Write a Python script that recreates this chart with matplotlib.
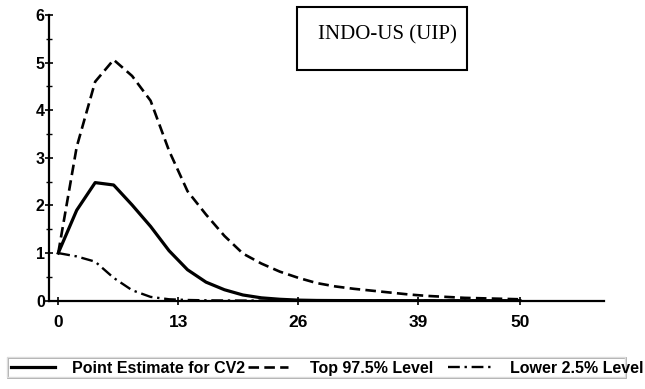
import matplotlib
matplotlib.use("Agg")
import matplotlib.pyplot as plt
from matplotlib.patches import Rectangle
from matplotlib.lines import Line2D
import numpy as np

# impulse response horizons and the three bands
horizon = np.arange(0, 51, 2)
point_est = [1.0, 1.9, 2.48, 2.43, 2.01, 1.56, 1.05, 0.65, 0.39, 0.23, 0.12, 0.06, 0.03,
             0.012, 0.005, 0.003, 0.002, 0.001, 0.001, 0.0, 0.0, 0.0, 0.0, 0.0, 0.0, 0.0]
upper = [1.0, 3.23, 4.6, 5.06, 4.72, 4.2, 3.15, 2.3, 1.81, 1.36, 0.99, 0.78, 0.61,
         0.48, 0.37, 0.30, 0.25, 0.21, 0.17, 0.13, 0.10, 0.08, 0.06, 0.05, 0.04, 0.03]
lower = [1.0, 0.93, 0.82, 0.48, 0.22, 0.08, 0.03, 0.015, 0.008, 0.005, 0.003, 0.002, 0.001,
         0.001, 0.0, 0.0, 0.0, 0.0, 0.0, 0.0, 0.0, 0.0, 0.0, 0.0, 0.0, 0.0]

xticks = [0, 13, 26, 39, 50]
labels = ["Point Estimate for CV2", "Top 97.5% Level", "Lower 2.5% Level"]
title = "INDO-US (UIP)"

fig = plt.figure(figsize=(6.45, 3.89), dpi=100)
W, H = 645, 389
ax = fig.add_axes([49 / W, 1 - 300.7 / H, 555 / W, 285.7 / H])

styles = [dict(lw=2.3, linestyle="-"),
          dict(lw=1.9, linestyle=(0, (4, 2))),
          dict(lw=1.7, linestyle=(0, (5, 2, 1, 2)))]
for ys, st in zip([point_est, upper, lower], styles):
    ax.plot(horizon, ys, color="black", **st)

ax.set_xlim(-1, 59.1)
ax.set_ylim(0, 6)
for side in ["top", "right"]:
    ax.spines[side].set_visible(False)
for side in ["left", "bottom"]:
    ax.spines[side].set_linewidth(1.6)
ax.set_xticks(xticks)
ax.set_yticks(range(7))
ax.set_yticks(np.arange(0.5, 6, 1), minor=True)
ax.tick_params(axis="both", direction="inout", length=6, width=1.2)
ax.tick_params(axis="y", which="minor", direction="inout", length=4, width=1.0)
ax.tick_params(axis="x", pad=7, labelsize=12.5)
ax.tick_params(axis="y", pad=0, labelsize=11.5)
for t in ax.get_xticklabels() + ax.get_yticklabels():
    t.set_fontweight("bold")
    t.set_fontfamily("Liberation Sans")

# title box in the upper right
fig.patches.append(Rectangle((297 / W, 1 - 70 / H), 170 / W, 63 / H, transform=fig.transFigure,
                             fill=False, edgecolor="black", lw=1.5))
fig.text(318 / W, 1 - 35 / H, title, fontfamily="Liberation Serif", fontsize=15,
         va="center", ha="left")

# legend strip along the bottom, laid out by hand (pixel positions)
fig.patches.append(Rectangle((8 / W, 1 - 378 / H), 618 / W, 20 / H, transform=fig.transFigure,
                             fill=False, edgecolor="#a0a0a0", lw=1.2))
fig.patches.append(Rectangle((7 / W, 1 - 377 / H), 618 / W, 20 / H, transform=fig.transFigure,
                             fill=False, edgecolor="#dcdcdc", lw=1.0))
row_y = 1 - 367 / H
handle_x = [(11, 55), (248, 288), (448, 492)]
text_x = [72, 310, 510]
for (x0, x1), tx, lab, st in zip(handle_x, text_x, labels, styles):
    fig.add_artist(Line2D([x0 / W, x1 / W], [row_y, row_y], transform=fig.transFigure,
                          color="black", **st))
    fig.text(tx / W, row_y, lab, fontfamily="Liberation Sans", fontweight="bold",
             fontsize=11.5, va="center_baseline", ha="left")

fig.savefig("out.png", dpi=100)
